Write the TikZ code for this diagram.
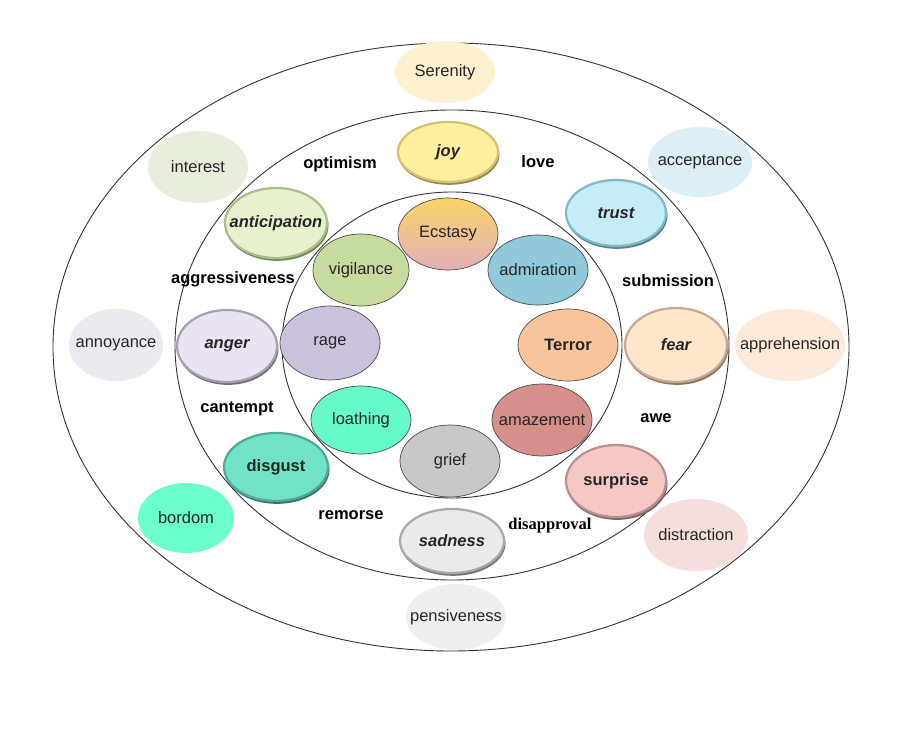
\documentclass[tikz,border=0pt]{standalone}
\usepackage{fontspec}
\setmainfont{Liberation Sans}
\newfontfamily\timesfont{Liberation Serif}
\usetikzlibrary{shapes.geometric,shadows}

\definecolor{ringline}{HTML}{333333}
\definecolor{serenityc}{HTML}{FDF2D0}
\definecolor{interestc}{HTML}{E7EFDC}
\definecolor{acceptc}{HTML}{DDEFF6}
\definecolor{annoyc}{HTML}{ECE9F1}
\definecolor{apprehc}{HTML}{FDEADB}
\definecolor{bordomc}{HTML}{6CFECB}
\definecolor{distractc}{HTML}{F5DFDD}
\definecolor{pensivec}{HTML}{EFEFEF}
\definecolor{joyc}{HTML}{FFF0A0}\definecolor{joyr}{HTML}{D8C070}
\definecolor{trustc}{HTML}{C4ECF6}\definecolor{trustr}{HTML}{80B8C8}
\definecolor{anticc}{HTML}{E6F2CE}\definecolor{anticr}{HTML}{A8C088}
\definecolor{angerc}{HTML}{EAE4F2}\definecolor{angerr}{HTML}{A8A0B0}
\definecolor{fearc}{HTML}{FFE6CC}\definecolor{fearr}{HTML}{C8A890}
\definecolor{disgustc}{HTML}{72E2C6}\definecolor{disgustr}{HTML}{50A898}
\definecolor{surprisec}{HTML}{F6C8C4}\definecolor{surpriser}{HTML}{B89090}
\definecolor{sadnessc}{HTML}{EAEAEA}\definecolor{sadnessr}{HTML}{A8A8A8}
\definecolor{ecstasytop}{HTML}{FAD468}\definecolor{ecstasybot}{HTML}{E3B0BA}
\definecolor{admirc}{HTML}{90C9D9}
\definecolor{vigilc}{HTML}{C6DC9E}
\definecolor{ragec}{HTML}{CCC2DC}
\definecolor{terrorc}{HTML}{F9C49A}
\definecolor{loathc}{HTML}{66F9CA}
\definecolor{amazec}{HTML}{D68F8B}
\definecolor{griefc}{HTML}{C8C8C8}

\begin{document}
\begin{tikzpicture}[x=1pt,y=-1pt,
    every node/.style={font=\fontsize{16.5}{19}\selectfont},
    emo/.style={ellipse, minimum width=100pt, minimum height=72pt, inner sep=0pt, text=black!85,
        execute at begin node={\hbox to 0pt\bgroup\hss},
        execute at end node={\hss\egroup}},
    inneremo/.style={emo, draw=black!70, line width=0.7pt, fill=#1},
    outeremo/.style={emo, fill=#1},
    midemo/.style 2 args={emo, fill=#1, draw=#2, line width=2.2pt,
        general shadow={fill=#2!70!black, shadow xshift=1pt, shadow yshift=-2.5pt, shadow scale=1.01},
        font=\fontsize{16.5}{19}\selectfont\bfseries\itshape},
    dyad/.style={font=\fontsize{16.5}{19}\selectfont\bfseries}]
    \useasboundingbox (0,0) rectangle (900,735);
    \fill[white] (0,0) rectangle (900,735);
    % the three rings
    \draw[ringline, line width=0.9pt] (451,347) ellipse [x radius=398pt, y radius=304pt];
    \draw[ringline, line width=0.9pt] (452,345) ellipse [x radius=277pt, y radius=235pt];
    \draw[ringline, line width=0.9pt] (452,345) ellipse [x radius=170pt, y radius=153pt];
    % outer ring
    \node (serenity) at (445,72) [outeremo=serenityc, minimum height=62pt] {Serenity};
    \node (interest) at (198,167) [outeremo=interestc] {interest};
    \node (acceptance) at (700,162) [outeremo=acceptc, minimum width=104pt, minimum height=70pt] {acceptance};
    \node (annoyance) at (116,345) [outeremo=annoyc, minimum width=94pt] {annoyance};
    \node (apprehension) at (790,345) [outeremo=apprehc, minimum width=110pt] {apprehension};
    \node (bordom) at (186,518) [outeremo=bordomc, minimum width=96pt, minimum height=70pt] {bordom};
    \node (distraction) at (696,535) [outeremo=distractc, minimum width=104pt] {distraction};
    \node (pensiveness) at (456,617) [outeremo=pensivec, minimum height=66pt] {pensiveness};
    % middle ring
    \node (joy) at (448,152) [midemo={joyc}{joyr}, minimum height=60pt] {joy};
    \node (trust) at (616,213) [midemo={trustc}{trustr}, minimum height=66pt] {trust};
    \node (anticipation) at (276,223) [midemo={anticc}{anticr}, minimum width=102pt, minimum height=70pt] {anticipation};
    \node (anger) at (227,346) [midemo={angerc}{angerr}] {anger};
    \node (fear) at (676,345) [midemo={fearc}{fearr}, minimum width=102pt, minimum height=74pt] {fear};
    \node (disgust) at (276,467) [midemo={disgustc}{disgustr}, minimum width=104pt, minimum height=68pt, font=\fontsize{16.5}{19}\selectfont\bfseries] {disgust};
    \node (surprise) at (616,481) [midemo={surprisec}{surpriser}, font=\fontsize{16.5}{19}\selectfont\bfseries] {surprise};
    \node (sadness) at (452,541) [midemo={sadnessc}{sadnessr}, minimum width=104pt, minimum height=64pt] {sadness};
    % inner ring
    \node (ecstasy) at (448,234) [emo, draw=black!70, line width=0.7pt, top color=ecstasytop, bottom color=ecstasybot] {Ecstasy};
    \node (admiration) at (538,270) [inneremo=admirc, minimum height=70pt] {admiration};
    \node (vigilance) at (361,270) [inneremo=vigilc, minimum width=96pt] {vigilance};
    \node (rage) at (330,343) [inneremo=ragec, minimum height=74pt] {rage};
    \node (terror) at (568,345) [inneremo=terrorc, font=\fontsize{16.5}{19}\selectfont\bfseries] {Terror};
    \node (loathing) at (361,420) [inneremo=loathc, minimum height=68pt] {loathing};
    \node (amazement) at (542,420) [inneremo=amazec] {amazement};
    \node (grief) at (450,461) [inneremo=griefc] {grief};
    % dyads
    \node (optimism) at (340,164) [dyad] {optimism};
    \node (love) at (538,162) [dyad] {love};
    \node (aggressive) at (233,279) [dyad] {aggressiveness};
    \node (submission) at (668,281) [dyad] {submission};
    \node (cantempt) at (237,409) [dyad] {cantempt};
    \node (awe) at (656,418) [dyad] {awe};
    \node (remorse) at (351,515) [dyad] {remorse};
    \node (disapproval) at (550,526) [font=\fontsize{16.5}{19}\timesfont\bfseries] {disapproval};
\end{tikzpicture}
\end{document}
